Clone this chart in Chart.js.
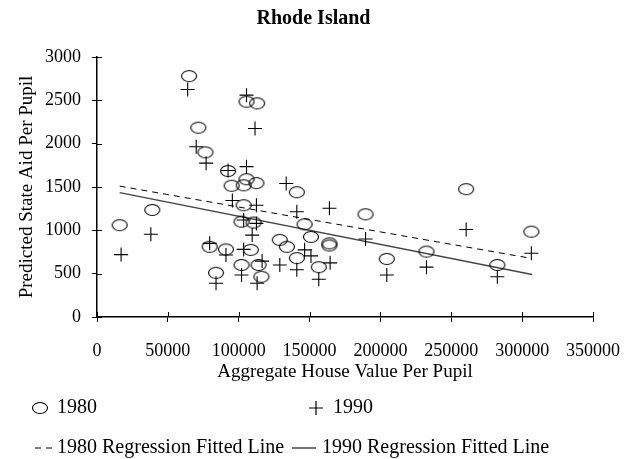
<!DOCTYPE html>
<html>
<head>
<meta charset="utf-8">
<script src="https://cdn.jsdelivr.net/npm/chart.js@4.4.0/dist/chart.umd.min.js"></script>
<style>
  html, body { margin: 0; padding: 0; background: #fff; }
</style>
</head>
<body>
<canvas id="myChart" width="627" height="459"></canvas>
<script>
// house value per pupil (x) and predicted state aid per pupil (y)
const x1980 = [16000, 39000, 65000, 71500, 76500, 92500, 105500, 113000, 105500, 95000, 103500, 112500, 141000,
  103500, 102000, 110500, 79500, 91000, 108500, 84000, 102000, 114000, 116000, 129000, 134000, 146500, 151000,
  164000, 164000, 141000, 156500, 189500, 204500, 232500, 260500, 282500, 306500];
const aid1980 = [1060, 1235, 2780, 2185, 1900, 1685, 2485, 2465, 1590, 1515, 1520, 1545, 1440,
  1290, 1100, 1090, 810, 780, 775, 510, 600, 600, 465, 890, 810, 1070, 925,
  850, 825, 680, 575, 1185, 670, 755, 1475, 600, 985];

const x1990 = [17000, 38000, 64000, 70000, 77000, 92500, 105500, 105500, 111500, 133500, 95500, 112500,
  103500, 112500, 109500, 79500, 91000, 103500, 84000, 102000, 116500, 113000, 141000, 164000, 189500,
  146500, 151000, 164500, 141000, 156500, 129000, 204500, 232500, 260500, 282500, 306500];
const aid1990 = [720, 955, 2625, 1965, 1775, 1690, 1735, 2560, 2175, 1540, 1345, 1290,
  1120, 1080, 945, 850, 715, 780, 390, 485, 645, 390, 1215, 1255, 900,
  775, 705, 625, 545, 435, 600, 485, 575, 1010, 465, 735];

// regression fitted lines (end points)
const fitX = [16000, 307000];
const fit1980 = [1510, 675];
const fit1990 = [1435, 490];

const titleText = 'Rhode Island';
const FONT = 'Liberation Serif';

function pts(xs, ys) {
  return xs.map((x, i) => ({ x: x, y: ys[i] }));
}

// open ellipse marker
const ellipse = document.createElement('canvas');
ellipse.width = 18; ellipse.height = 14;
(function () {
  const c = ellipse.getContext('2d');
  c.strokeStyle = '#000';
  c.lineWidth = 1.1;
  c.beginPath();
  c.ellipse(9, 7, 7.5, 5.5, 0, 0, Math.PI * 2);
  c.stroke();
})();

// ticks that cross the axis lines
const crossTicks = {
  id: 'crossTicks',
  afterDatasetsDraw(chart) {
    const ctx = chart.ctx, xs = chart.scales.x, ys = chart.scales.y;
    ctx.save();
    ctx.strokeStyle = '#000';
    ctx.lineWidth = 1;
    ctx.beginPath();
    xs.ticks.forEach(t => {
      const p = Math.round(xs.getPixelForValue(t.value)) + 0.5;
      ctx.moveTo(p, xs.top);
      ctx.lineTo(p, xs.top - 5);
    });
    ys.ticks.forEach(t => {
      const p = Math.round(ys.getPixelForValue(t.value)) + 0.5;
      ctx.moveTo(ys.right, p);
      ctx.lineTo(ys.right + 5, p);
    });
    ctx.stroke();
    ctx.restore();
  }
};

// title centred on the whole canvas
const pageTitle = {
  id: 'pageTitle',
  afterDraw(chart) {
    const ctx = chart.ctx;
    ctx.save();
    ctx.font = 'bold 20px ' + FONT;
    ctx.fillStyle = '#000';
    ctx.textAlign = 'center';
    ctx.textBaseline = 'middle';
    ctx.fillText(titleText, chart.width / 2, 19);
    ctx.restore();
  }
};

// legend in two columns under the chart
const legendRows = {
  id: 'legendRows',
  afterDraw(chart) {
    const ctx = chart.ctx;
    const ds = chart.data.datasets;
    ctx.save();
    ctx.font = '20px ' + FONT;
    ctx.fillStyle = '#000';
    ctx.textBaseline = 'middle';
    ctx.strokeStyle = '#000';

    // row 1
    ctx.drawImage(ellipse, 40 - 9, 408 - 7);
    ctx.fillText(ds[0].label, 57, 408);
    ctx.lineWidth = 1.2;
    ctx.beginPath();
    ctx.moveTo(309, 408); ctx.lineTo(323, 408);
    ctx.moveTo(316, 401); ctx.lineTo(316, 415);
    ctx.stroke();
    ctx.fillText(ds[1].label, 333, 408);

    // row 2
    ctx.lineWidth = 1;
    ctx.setLineDash([6, 5]);
    ctx.beginPath();
    ctx.moveTo(35, 448); ctx.lineTo(53, 448);
    ctx.stroke();
    ctx.setLineDash([]);
    ctx.fillText(ds[2].label, 57, 448);
    ctx.strokeStyle = '#444';
    ctx.lineWidth = 1.5;
    ctx.beginPath();
    ctx.moveTo(292, 448); ctx.lineTo(316, 448);
    ctx.stroke();
    ctx.fillText(ds[3].label, 322, 448);
    ctx.restore();
  }
};

const ctx = document.getElementById('myChart').getContext('2d');

new Chart(ctx, {
  type: 'scatter',
  data: {
    datasets: [
      {
        label: '1980',
        data: pts(x1980, aid1980),
        pointStyle: ellipse,
        pointRadius: 7
      },
      {
        label: '1990',
        data: pts(x1990, aid1990),
        pointStyle: 'cross',
        pointRadius: 7,
        borderColor: '#000',
        borderWidth: 1.1
      },
      {
        label: '1980 Regression Fitted Line',
        data: pts(fitX, fit1980),
        showLine: true,
        pointRadius: 0,
        borderColor: '#000',
        borderWidth: 1,
        borderDash: [6, 5]
      },
      {
        label: '1990 Regression Fitted Line',
        data: pts(fitX, fit1990),
        showLine: true,
        pointRadius: 0,
        borderColor: '#444',
        borderWidth: 1.5
      }
    ]
  },
  options: {
    responsive: false,
    animation: false,
    events: [],
    layout: { padding: { left: 0, right: 34, top: 57, bottom: 72 } },
    plugins: {
      legend: { display: false },
      tooltip: { enabled: false },
      title: { display: false }
    },
    scales: {
      x: {
        type: 'linear',
        min: 0,
        max: 350000,
        afterFit(scale) {
          scale.height = 70;
          scale.paddingLeft = 0;
          scale.paddingRight = 0;
        },
        ticks: {
          stepSize: 25000,
          color: '#000',
          padding: 18,
          maxRotation: 0,
          font: { family: FONT, size: 18 },
          callback: v => (v % 50000 === 0 ? String(v) : '')
        },
        grid: { drawOnChartArea: false, color: '#000', tickLength: 5 },
        border: { color: '#000', width: 1.5 },
        title: {
          display: true,
          text: 'Aggregate House Value Per Pupil',
          color: '#000',
          font: { family: FONT, size: 19 },
          padding: { top: 0 }
        }
      },
      y: {
        type: 'linear',
        min: 0,
        max: 3000,
        afterFit(scale) { scale.width = 97; },
        ticks: {
          stepSize: 250,
          color: '#000',
          padding: 11,
          font: { family: FONT, size: 18 },
          callback: v => (v % 500 === 0 ? String(v) : '')
        },
        grid: { drawOnChartArea: false, color: '#000', tickLength: 5 },
        border: { color: '#000', width: 1.5 },
        title: {
          display: true,
          text: 'Predicted State Aid Per Pupil',
          color: '#000',
          font: { family: FONT, size: 19 },
          padding: { top: 16, bottom: 0 }
        }
      }
    }
  },
  plugins: [crossTicks, pageTitle, legendRows]
});
</script>
</body>
</html>
